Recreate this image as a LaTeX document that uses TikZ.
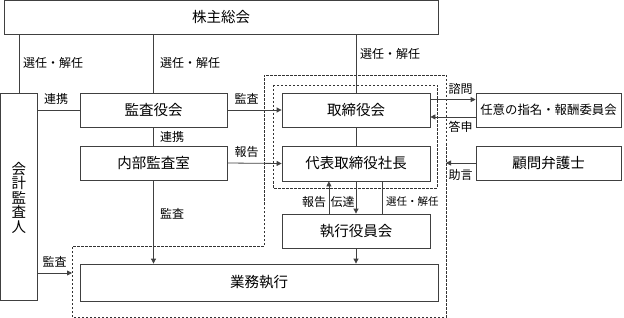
\documentclass[tikz,border=0pt]{standalone}
\usepackage{fontspec}
\setmainfont{Noto Sans CJK JP}
\usetikzlibrary{arrows.meta,calc}
\begin{document}
\begin{tikzpicture}[x=1pt,y=-1pt,
  box/.style={draw=black!75, line width=0.8pt, inner sep=0pt, font=\fontsize{14.5}{14.5}\selectfont},
  lbl/.style={inner sep=0pt, font=\fontsize{12}{12}\selectfont},
  conn/.style={draw=black!75, line width=0.8pt},
  arr/.style={-{Triangle[length=5pt,width=5pt]}},
  dsh/.style={draw=black!80, line width=0.8pt, dash pattern=on 2.5pt off 1.5pt}]
\useasboundingbox (0,0) rectangle (624,318);
% dashed areas
\coordinate (o1) at (72,317);
\coordinate (o2) at (72,246);
\coordinate (o3) at (264,246);
\coordinate (o4) at (264,75);
\coordinate (o5) at (446,75);
\coordinate (o6) at (446,317);
\draw[dsh] (o1) -- (o2) -- (o3) -- (o4) -- (o5) -- (o6) -- cycle;
\draw[dsh] (273,85) rectangle (437,188);
% boxes
\node[box, minimum width=434, minimum height=34] (kabu) at (221,17) {株主総会};
\node[box, minimum width=37.5, minimum height=207] (kaikei) at (19,196.5) {};
\node[inner sep=0pt, align=center, font=\fontsize{14.5}{14.5}\selectfont] at (19,197.5) {会\\計\\監\\査\\人};
\node[box, minimum width=147, minimum height=34] (kansa) at (153.5,110) {監査役会};
\node[box, minimum width=147, minimum height=34] (naibu) at (153.5,163) {内部監査室};
\node[box, minimum width=148, minimum height=34] (tori) at (356,110) {取締役会};
\node[box, minimum width=148, minimum height=35] (daihyo) at (356,163.5) {代表取締役社長};
\node[box, minimum width=148, minimum height=34] (shikko) at (356,231) {執行役員会};
\node[box, minimum width=358, minimum height=37] (gyomu) at (259,282.5) {業務執行};
\node[box, minimum width=145, minimum height=34, font=\fontsize{12.4}{12.4}\selectfont] (nini) at (548.5,110) {任意の指名・報酬委員会};
\node[box, minimum width=145, minimum height=34] (komon) at (548.5,163) {顧問弁護士};
% connectors
\draw[conn] (kabu.south -| kaikei.north) -- (kaikei.north);
\node[lbl, anchor=west] at (23,63) {選任・解任};
\draw[conn] (kabu.south -| kansa.north) -- (kansa.north);
\node[lbl, anchor=west] at (160,63) {選任・解任};
\draw[conn] (kabu.south -| tori.north) -- (tori.north);
\node[lbl, anchor=west] at (360,54) {選任・解任};
\draw[conn] (kaikei.east |- kansa.west) -- (kansa.west);
\node[lbl] at (56,99) {連携};
\draw[conn, arr] (kansa.east) -- (tori.west);
\node[lbl] at (246.5,99) {監査};
\draw[conn] (kansa.south) -- (naibu.north);
\node[lbl, anchor=west] at (160,137) {連携};
\draw[conn, arr] (naibu.east) -- (daihyo.west);
\node[lbl] at (246.5,152) {報告};
\draw[conn, arr] (naibu.south) -- (naibu.south |- gyomu.north);
\node[lbl, anchor=west] at (160,214) {監査};
\coordinate (kin) at (72,273);
\draw[conn, arr] (kaikei.east |- kin) -- (kin);
\node[lbl] at (54.5,262) {監査};
\draw[conn] (tori.south) -- (daihyo.north);
\coordinate (s1) at ($(tori.north east)!0.2!(tori.south east)$);
\coordinate (s2) at ($(tori.north east)!0.7!(tori.south east)$);
\draw[conn, arr] (s1) -- (s1 -| nini.west);
\draw[conn, arr] (s2 -| nini.west) -- (s2);
\node[lbl, anchor=west] at (448.5,89) {諮問};
\node[lbl, anchor=west] at (448.5,127) {答申};
\draw[conn, arr] (komon.west) -- (komon.west -| o5);
\node[lbl, anchor=west] at (448.5,175) {助言};
\coordinate (e1) at ($(shikko.north west)!0.318!(shikko.north east)$);
\coordinate (e3) at ($(shikko.north west)!0.676!(shikko.north east)$);
\draw[conn, arr] (e1) -- (e1 |- daihyo.south);
\draw[conn, arr] (daihyo.south) -- (shikko.north);
\draw[conn] (e3 |- daihyo.south) -- (e3);
\node[lbl] at (314,202) {報告};
\node[lbl] at (342.5,202) {伝達};
\node[lbl, anchor=west, font=\fontsize{10.5}{10.5}\selectfont] at (386,202) {選任・解任};
\draw[conn, arr] (shikko.south) -- (shikko.south |- gyomu.north);
\end{tikzpicture}
\end{document}
